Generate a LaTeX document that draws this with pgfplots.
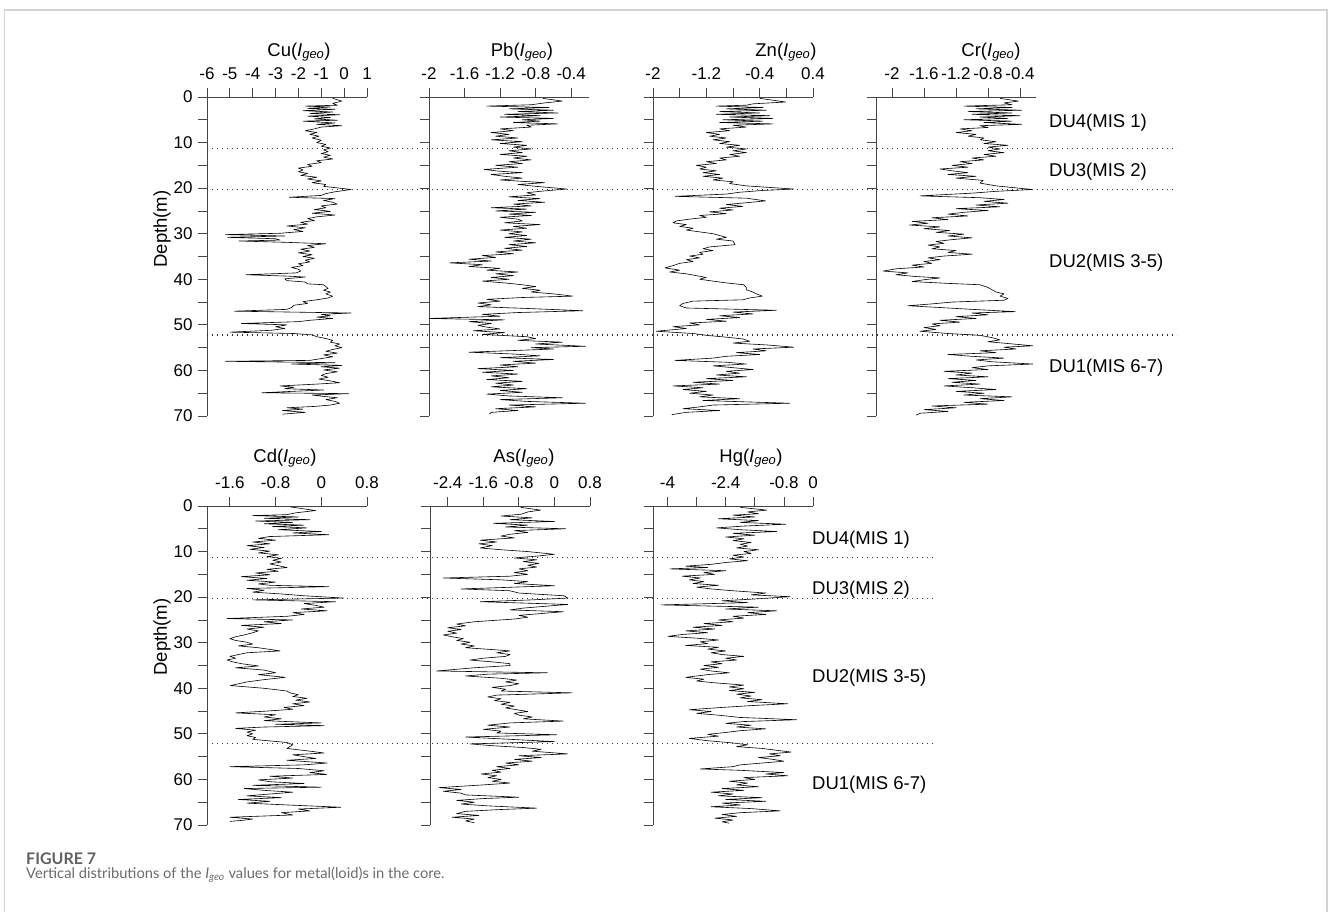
\documentclass[border=0pt]{standalone}
\usepackage{pgfplots}
\usepackage{pgfplotstable}
\pgfplotsset{compat=1.18}
\usepackage{fontspec}
\setmainfont{Liberation Sans}
\newfontfamily\capfont{Lato}
\definecolor{axc}{RGB}{70,70,70}
\definecolor{framec}{RGB}{212,212,212}
\newcommand\tk{\fontsize{17}{17}\selectfont}
\newcommand\ttl{\fontsize{18.5}{18.5}\selectfont}

\pgfplotstableread{
v d
-0.5 0.3
-0.1 0.9
-0.5 1.4
-0.3 1.8
-1.7 2.0
-0.6 2.2
-1.6 2.5
-0.4 2.7
-1.8 3.0
-0.5 3.3
-1.5 3.6
-0.2 3.9
-1.6 4.2
-0.6 4.5
-1.3 4.8
-0.3 5.1
-1.8 5.3
-0.4 5.7
-1.2 6.0
-0.1 6.3
-1.0 6.6
-1.3 7.0
-1.7 7.4
-1.2 7.8
-1.5 8.2
-1.1 8.6
-1.4 9.0
-1.0 9.5
-1.2 10.0
-0.8 10.4
-1.0 10.8
-0.6 11.2
-0.9 11.6
-0.7 12.0
-1.0 12.4
-0.6 12.8
-0.9 13.2
-0.5 13.6
-1.2 14.0
-1.0 14.4
-1.6 14.8
-1.4 15.2
-2.0 15.6
-1.8 16.0
-2.0 16.4
-1.6 16.8
-1.9 17.2
-1.2 17.6
-1.6 18.0
-1.0 18.4
-1.4 18.8
-0.8 19.2
-0.9 19.6
-0.2 20.0
0.3 20.3
-0.4 20.8
-0.8 21.2
-1.0 21.6
-2.4 22.0
-0.4 22.3
-0.9 22.7
-0.5 23.1
-0.3 23.5
-1.0 23.9
-0.8 24.3
-1.3 24.7
-0.6 25.1
-1.4 25.5
-0.4 25.9
-1.2 26.3
-1.6 26.7
-1.3 27.1
-1.9 27.5
-1.6 27.9
-2.5 28.3
-1.7 28.7
-2.2 29.1
-1.8 29.5
-2.8 29.9
-5.2 30.2
-2.6 30.5
-5.1 30.8
-3.0 31.1
-2.8 31.4
-4.6 31.6
-2.5 31.9
-0.8 32.2
-1.6 32.6
-1.3 33.0
-1.9 33.4
-1.5 33.8
-2.0 34.2
-1.4 34.6
-1.8 35.0
-1.3 35.4
-1.7 35.8
-1.5 36.2
-2.0 36.6
-1.8 37.0
-2.3 37.4
-2.0 37.8
-1.9 38.2
-2.1 38.6
-4.3 39.0
-2.5 39.3
-1.7 39.5
-2.6 39.9
-2.5 40.3
-1.7 40.6
-1.6 41.0
-0.9 41.2
-0.8 41.6
-0.7 42.0
-0.9 42.4
-0.6 42.8
-0.8 43.2
-0.5 43.7
-0.7 44.1
-1.2 44.5
-1.8 44.9
-1.6 45.3
-2.2 45.7
-2.3 46.2
-2.5 46.6
-4.8 47.0
0.3 47.4
-1.0 47.7
-0.6 48.0
-1.2 48.3
-0.5 48.6
-1.5 49.0
-2.0 49.3
-4.5 49.7
-2.5 50.0
-3.0 50.4
-2.6 50.8
-3.2 51.2
-5.0 51.6
-2.2 51.9
-1.4 52.2
-1.2 52.6
-0.8 53.0
-0.5 53.4
-0.6 53.8
-0.2 54.2
-0.4 54.6
-0.1 55.0
-0.5 55.4
-0.8 55.8
-0.3 56.2
-0.9 56.6
-0.5 57.0
-1.0 57.4
-1.5 57.8
-5.2 58.0
-0.4 58.3
-2.3 58.6
-0.1 58.9
-1.0 59.2
-0.2 59.5
-0.9 59.9
-0.3 60.3
-0.8 60.7
-1.0 61.1
-0.7 61.5
-1.1 61.9
-0.6 62.3
-0.2 62.7
-1.2 63.0
-2.8 63.4
-2.2 63.7
-2.6 64.0
-0.9 64.3
-2.3 64.6
-3.6 64.9
0.2 65.1
-1.4 65.4
-0.9 65.7
-0.3 66.0
-0.8 66.4
-0.4 66.8
-0.2 67.2
-0.6 67.6
-1.3 67.9
-2.5 68.2
-1.8 68.5
-2.7 68.8
-1.7 69.2
-2.7 69.6
}\Cu

\pgfplotstableread{
v d
-0.72 0.3
-0.5 0.9
-0.7 1.3
-0.85 1.7
-1.35 2.0
-0.65 2.3
-1.1 2.6
-0.6 2.9
-1.0 3.2
-0.55 3.5
-1.15 3.8
-0.75 4.1
-1.2 4.4
-0.6 4.7
-0.95 5.0
-0.75 5.3
-1.05 5.6
-0.55 5.9
-0.9 6.2
-0.85 6.6
-1.2 7.0
-1.05 7.4
-1.3 7.8
-1.1 8.2
-1.25 8.6
-1.0 9.0
-1.3 9.4
-0.95 9.8
-1.2 10.2
-0.9 10.6
-1.05 11.0
-0.85 11.4
-1.1 11.8
-0.95 12.2
-1.2 12.6
-0.9 13.0
-1.05 13.4
-0.85 13.8
-1.1 14.2
-0.95 14.6
-1.25 15.0
-1.0 15.4
-1.38 15.9
-1.2 16.3
-0.95 16.6
-1.3 17.0
-1.15 17.4
-0.95 17.8
-1.2 18.2
-0.7 18.8
-1.0 19.2
-0.8 19.6
-0.45 20.2
-0.7 20.6
-0.9 21.0
-0.8 21.5
-1.1 21.9
-0.75 22.3
-1.0 22.7
-0.7 23.1
-1.05 23.5
-0.85 23.9
-1.3 24.3
-0.9 24.6
-1.25 25.0
-0.8 25.3
-1.1 25.7
-0.85 26.0
-1.2 26.4
-1.0 26.8
-0.95 27.2
-1.15 27.6
-0.75 28.0
-1.05 28.4
-0.9 28.8
-1.2 29.2
-0.95 29.6
-1.1 30.0
-0.9 30.4
-1.15 30.8
-0.85 31.2
-1.05 31.6
-0.8 32.0
-1.1 32.4
-0.9 32.8
-1.15 33.2
-0.95 33.6
-1.25 34.0
-1.05 34.4
-1.4 34.8
-1.25 35.2
-1.55 35.6
-1.3 36.0
-1.77 36.4
-1.4 36.8
-1.55 37.2
-1.2 37.6
-1.35 38.0
-1.0 38.4
-1.25 38.8
-1.05 39.2
-1.3 39.6
-1.1 40.0
-1.4 40.4
-1.15 40.8
-0.95 41.2
-0.8 41.6
-0.95 42.0
-0.75 42.4
-0.85 42.8
-0.6 43.2
-0.38 43.7
-0.95 44.0
-1.35 44.4
-1.2 44.8
-1.45 45.2
-1.3 45.6
-1.45 46.0
-0.9 46.4
-0.27 46.9
-1.0 47.3
-1.4 47.7
-1.2 48.1
-2.0 48.6
-1.15 48.9
-1.55 49.3
-1.3 49.7
-1.45 50.1
-1.35 50.5
-1.2 50.9
-1.5 51.3
-1.15 51.7
-1.4 52.1
-0.9 52.6
-0.8 53.0
-1.0 53.4
-0.5 53.8
-0.8 54.2
-0.24 54.7
-0.85 55.0
-0.6 55.3
-1.0 55.6
-1.55 56.0
-1.05 56.4
-0.75 56.8
-1.2 57.2
-0.6 57.6
-1.05 58.0
-0.8 58.4
-1.2 58.8
-1.0 59.2
-1.45 59.6
-1.05 60.0
-1.4 60.4
-1.0 60.8
-1.3 61.2
-1.1 61.6
-1.35 62.0
-0.95 62.4
-1.25 62.8
-1.05 63.2
-1.3 63.6
-0.9 64.0
-1.2 64.4
-0.95 64.8
-1.35 65.2
-1.1 65.6
-0.5 66.0
-1.2 66.4
-0.9 66.8
-0.24 67.2
-1.1 67.6
-0.8 68.0
-1.25 68.4
-1.0 68.8
-1.3 69.2
-1.32 69.6
}\Pb

\pgfplotstableread{
v d
-0.4 0.3
-0.01 1.1
-0.5 1.5
-0.6 1.8
-1.05 2.0
-0.35 2.3
-0.9 2.6
-0.3 2.9
-1.0 3.2
-0.4 3.5
-1.05 3.8
-0.25 4.1
-0.85 4.4
-0.2 4.7
-0.95 5.0
-0.35 5.3
-1.0 5.6
-0.2 5.9
-0.8 6.2
-0.6 6.6
-1.0 7.0
-0.85 7.4
-1.2 7.8
-1.0 8.2
-1.15 8.6
-0.9 9.0
-1.1 9.4
-0.85 9.8
-1.0 10.2
-0.7 10.6
-0.9 11.0
-0.6 11.4
-0.8 11.8
-0.6 12.2
-0.85 12.6
-0.7 13.0
-1.0 13.4
-0.9 13.8
-1.2 14.2
-1.05 14.6
-1.35 15.0
-1.2 15.4
-1.3 15.8
-1.05 16.2
-1.25 16.6
-1.0 17.0
-1.25 17.4
-0.95 17.8
-1.1 18.2
-0.8 18.6
-0.85 19.0
-0.6 19.5
0.11 20.2
-0.35 20.5
-0.7 20.9
-0.9 21.3
-1.67 21.8
-0.6 22.2
-0.31 22.8
-0.6 23.2
-0.9 23.6
-0.65 24.0
-1.0 24.4
-0.8 24.8
-1.15 25.2
-0.9 25.6
-1.3 26.0
-1.2 26.4
-1.45 26.8
-1.65 27.2
-1.7 27.6
-1.5 28.0
-1.6 28.4
-1.4 28.8
-1.5 29.2
-1.3 29.6
-1.1 30.0
-1.0 30.4
-0.9 30.8
-1.05 31.2
-0.8 31.6
-0.77 32.4
-1.15 32.9
-1.25 33.3
-1.1 33.7
-1.3 34.1
-1.25 34.5
-1.45 34.9
-1.3 35.3
-1.5 35.7
-1.4 36.1
-1.6 36.5
-1.7 37.0
-1.82 37.5
-1.6 38.0
-1.75 38.4
-1.5 38.8
-1.35 39.2
-1.2 39.6
-1.3 40.0
-1.1 40.4
-0.9 40.8
-0.64 41.2
-0.6 41.8
-0.6 42.3
-0.5 42.8
-0.45 43.2
-0.36 43.7
-0.55 44.1
-0.65 44.5
-1.4 44.8
-1.55 45.3
-1.6 45.8
-1.5 46.3
-0.15 46.8
-0.8 47.2
-0.5 47.6
-1.0 48.0
-0.7 48.4
-1.2 48.8
-0.9 49.2
-1.45 49.6
-1.3 50.0
-1.7 50.4
-1.5 50.8
-1.95 51.4
-1.4 51.9
-1.2 52.3
-0.9 52.7
-0.65 53.1
-0.55 53.6
-0.8 54.0
-0.3 54.4
0.11 54.9
-0.5 55.3
-0.3 55.7
-0.75 56.1
-0.4 56.5
-0.9 56.9
-1.1 57.3
-1.67 57.8
-0.9 58.2
-0.6 58.6
-1.1 59.0
-0.8 59.4
-0.5 59.8
-0.9 60.2
-0.7 60.6
-1.05 61.0
-0.6 61.4
-1.2 61.8
-0.8 62.2
-1.4 62.6
-1.0 63.0
-1.7 63.4
-1.25 63.8
-1.55 64.2
-1.2 64.6
-1.45 65.0
-1.1 65.4
-1.3 65.8
-0.7 66.2
-1.25 66.6
0.05 67.2
-1.1 67.6
-1.3 68.0
-1.55 68.4
-1.0 68.8
-1.5 69.2
-1.72 69.7
}\Zn

\pgfplotstableread{
v d
-0.65 0.3
-0.42 0.9
-0.6 1.3
-0.5 1.7
-1.1 2.0
-0.5 2.3
-0.95 2.6
-0.38 2.9
-1.05 3.2
-0.5 3.5
-1.0 3.8
-0.4 4.1
-0.9 4.4
-0.55 4.7
-1.1 5.0
-0.5 5.3
-0.85 5.6
-0.38 6.0
-0.9 6.3
-0.8 6.7
-1.15 7.0
-1.0 7.4
-1.2 7.8
-0.95 8.2
-1.05 8.6
-0.85 9.0
-0.9 9.4
-0.7 9.8
-0.85 10.2
-0.55 10.6
-0.8 11.0
-0.65 11.4
-0.8 11.8
-0.6 12.2
-0.85 12.6
-0.7 13.0
-1.0 13.4
-0.85 13.8
-1.15 14.2
-1.0 14.6
-1.25 15.0
-1.05 15.4
-1.4 15.8
-1.25 16.2
-1.05 16.6
-1.3 17.0
-0.95 17.4
-1.2 17.8
-0.86 18.3
-0.9 18.9
-0.7 19.5
-0.25 20.3
-0.7 20.7
-1.0 21.1
-1.65 21.7
-0.9 22.1
-0.6 22.5
-0.85 22.9
-0.55 23.3
-0.95 23.7
-0.65 24.1
-1.2 24.5
-0.8 24.9
-1.1 25.3
-1.3 25.7
-1.05 26.1
-1.5 26.5
-1.3 26.9
-1.75 27.3
-1.55 27.7
-1.78 28.1
-1.4 28.5
-1.6 28.9
-1.28 29.3
-1.45 29.7
-1.1 30.1
-1.3 30.5
-1.0 30.9
-1.25 31.3
-1.45 31.7
-1.35 32.1
-1.55 32.5
-1.4 32.9
-1.5 33.3
-1.2 33.7
-1.3 34.1
-1.0 34.5
-1.35 34.9
-1.55 35.3
-1.4 35.7
-1.6 36.1
-1.5 36.5
-1.75 36.9
-1.6 37.3
-1.95 37.7
-2.11 38.2
-1.8 38.6
-1.95 39.0
-1.7 39.4
-1.4 39.7
-1.6 40.1
-1.75 40.5
-1.3 40.9
-0.9 41.2
-0.8 41.8
-0.75 42.3
-0.7 42.8
-0.6 43.2
-0.65 43.7
-0.55 44.2
-0.6 44.6
-1.25 45.0
-1.5 45.4
-1.8 45.8
-1.4 46.2
-1.0 46.6
-0.46 47.1
-1.0 47.4
-0.8 47.8
-1.2 48.2
-0.95 48.6
-1.4 49.0
-1.15 49.4
-1.5 49.8
-1.4 50.2
-1.6 50.6
-1.45 51.0
-1.65 51.4
-1.3 51.9
-0.9 52.3
-0.75 52.8
-0.65 53.3
-0.8 53.7
-0.55 54.1
-0.24 54.6
-0.6 54.9
-0.45 55.3
-0.9 55.7
-0.7 56.1
-1.3 56.5
-1.0 56.9
-0.6 57.3
-0.95 57.7
-0.75 58.1
-0.24 58.6
-0.8 59.0
-1.0 59.4
-0.8 59.8
-1.35 60.2
-1.0 60.6
-1.2 61.0
-0.8 61.4
-1.3 61.8
-0.95 62.2
-1.25 62.6
-0.9 63.0
-1.35 63.4
-1.0 63.8
-0.7 64.2
-1.2 64.6
-0.85 65.0
-1.1 65.4
-0.5 65.8
-0.9 66.2
-0.6 66.6
-1.1 67.0
-0.8 67.4
-1.5 67.8
-1.2 68.2
-1.6 68.6
-1.3 69.0
-1.65 69.4
-1.7 69.8
}\Cr

\pgfplotstableread{
v d
-0.54 0.2
-0.1 1.0
-0.45 1.5
-0.6 1.9
-1.2 2.1
-0.4 2.4
-1.0 2.7
-0.2 3.0
-1.15 3.3
-0.5 3.6
-1.0 3.9
-0.3 4.2
-0.85 4.5
-0.25 4.8
-0.75 5.2
0.0 5.6
-0.5 5.9
0.13 6.3
-0.9 6.7
-1.1 7.1
-0.8 7.5
-1.2 7.9
-0.9 8.3
-1.3 8.7
-1.0 9.1
-1.25 9.5
-0.9 9.9
-1.1 10.3
-0.75 10.7
-0.95 11.1
-0.7 11.5
-0.85 11.9
-0.7 12.3
-0.9 12.7
-0.75 13.1
-0.6 13.5
-0.95 13.9
-0.75 14.3
-1.15 14.7
-0.9 15.1
-1.4 15.5
-0.95 15.9
-1.3 16.3
-0.8 16.7
-1.1 17.1
-0.9 17.4
0.13 17.7
-1.3 18.1
-1.0 18.5
-1.2 18.9
-0.7 19.3
-0.3 19.7
0.39 20.2
-1.2 20.6
0.25 21.0
-0.3 21.4
-0.1 21.8
0.05 22.2
-0.35 22.6
0.1 23.0
-0.5 23.4
-0.3 23.8
-0.6 24.2
-1.65 24.7
-0.5 25.0
-1.0 25.4
-0.7 25.8
-1.4 26.2
-1.0 26.6
-1.3 27.0
-1.1 27.4
-1.2 27.8
-1.35 28.3
-1.5 28.7
-1.6 29.1
-1.5 29.5
-1.3 29.9
-1.2 30.3
-1.45 30.7
-1.1 31.1
-0.72 31.8
-1.3 32.2
-1.45 32.6
-1.6 33.0
-1.5 33.4
-1.65 33.8
-1.55 34.2
-1.4 34.6
-1.1 35.1
-1.5 35.5
-1.0 36.0
-0.8 36.6
-1.1 37.0
-0.63 37.6
-1.0 38.1
-1.3 38.6
-1.59 39.4
-1.0 40.0
-0.6 40.6
-0.55 41.0
-0.4 41.4
-0.5 41.8
-0.25 42.2
-0.45 42.6
-0.2 43.0
-0.5 43.4
-0.3 43.8
-0.65 44.2
-0.5 44.6
-0.95 45.0
-1.5 45.4
-0.8 45.8
-1.0 46.3
-0.7 46.7
-1.0 47.1
0.0 47.6
-0.8 47.9
0.05 48.2
-1.0 48.5
-1.5 48.8
-1.15 49.2
-1.3 49.6
-1.2 50.0
-1.3 50.4
-1.15 50.8
-1.2 51.2
-0.6 51.9
-0.5 52.4
-0.55 52.8
-0.6 53.2
-0.2 53.8
0.05 54.2
-0.5 54.6
-0.3 55.0
-0.1 55.4
-0.6 55.8
0.1 56.4
-0.3 56.8
-1.6 57.2
-0.4 57.6
0.05 58.1
-0.2 58.5
0.1 58.9
-0.9 59.3
-0.5 59.7
-1.1 60.1
-0.9 60.5
-0.3 60.9
-1.2 61.3
0.0 61.7
-1.35 62.0
-1.0 62.4
-0.5 62.8
-0.9 63.2
-1.3 63.6
-0.7 64.0
-1.45 64.4
-0.9 64.8
-1.3 65.2
-0.6 65.6
0.34 66.1
-0.4 66.5
-0.2 66.9
-0.7 67.3
-0.5 67.8
-1.6 68.3
-1.2 68.7
-1.4 69.0
-1.6 69.2
}\Cd

\pgfplotstableread{
v d
-0.76 0.3
-0.31 0.9
-0.6 1.3
-0.75 1.8
-1.2 2.2
-0.5 2.6
-1.0 3.0
0.0 3.4
-1.37 3.8
-0.6 4.2
-1.1 4.6
0.25 5.0
-0.9 5.4
-0.6 5.8
-1.0 6.2
-1.2 6.6
-0.9 7.0
-1.67 7.5
-1.3 7.9
-1.7 8.3
-1.4 8.7
-1.67 9.2
-1.2 9.6
-0.6 10.0
0.0 10.6
-0.4 11.0
-0.9 11.4
-0.4 11.8
-0.7 12.2
-0.35 12.6
-0.6 13.0
-0.4 13.4
-0.8 13.8
-0.6 14.2
-0.9 14.6
-0.6 15.0
-1.0 15.4
-2.5 15.8
-1.2 16.2
-0.6 16.6
-0.9 17.0
0.0 17.5
-2.1 18.2
-1.0 18.6
-0.8 19.1
0.22 19.7
0.3 20.2
-0.5 20.6
-1.67 21.0
0.3 21.6
-0.2 22.0
-0.7 22.4
-1.0 22.8
0.2 23.2
-0.3 23.6
-0.8 24.0
-0.6 24.4
-0.9 24.8
-1.8 25.4
-2.2 25.9
-2.0 26.3
-2.4 26.7
-2.1 27.1
-2.4 27.5
-2.2 27.9
-2.5 28.3
-2.3 28.7
-2.05 29.1
-2.2 29.5
-1.9 29.9
-2.1 30.3
-1.8 30.7
-2.0 31.1
-1.4 31.5
-1.0 31.8
-1.3 32.2
-1.0 32.6
-1.1 33.0
-1.6 33.4
-1.9 33.8
-1.4 34.2
-1.0 34.6
-1.0 35.0
-1.8 35.5
-2.65 36.2
-0.16 36.6
-1.5 36.9
-2.0 37.3
-1.2 37.8
-0.85 38.2
-1.1 38.6
-0.8 39.0
-1.0 39.4
-1.4 39.8
-1.1 40.2
-1.2 40.6
0.4 41.0
-1.3 41.5
-1.5 41.9
-1.2 42.3
-1.35 42.7
-1.0 43.1
-1.2 43.5
-0.9 43.9
-1.1 44.3
-0.85 44.7
-0.6 45.1
-0.9 45.5
-0.8 45.9
-0.5 46.3
-0.7 46.7
0.2 47.2
-1.0 47.6
-1.5 48.1
-1.0 48.5
-1.6 49.0
-1.2 49.4
-1.3 49.8
0.05 50.2
-2.0 50.7
-1.2 51.1
0.0 51.7
-1.9 52.2
-1.4 52.6
-0.7 53.0
-0.3 53.4
-0.5 53.8
0.3 54.4
-0.8 54.8
-0.3 55.2
-0.9 55.6
-0.5 56.0
-1.1 56.4
-0.8 56.8
-1.3 57.2
-1.0 57.6
-1.4 58.0
-1.2 58.4
-1.65 58.8
-1.3 59.2
-1.5 59.6
-1.2 60.0
-1.4 60.4
-1.0 60.8
-1.6 61.2
-2.6 61.8
-2.1 62.2
-2.5 62.6
-2.1 63.0
-2.0 63.4
-0.8 63.9
-1.6 64.2
-2.2 64.6
-1.8 65.0
-2.1 65.4
-1.5 65.8
-0.4 66.3
-1.2 66.6
-2.0 67.0
-2.2 67.5
-1.7 67.9
-2.3 68.3
-1.8 68.7
-2.0 69.1
-1.8 69.5
}\As

\pgfplotstableread{
v d
-2.0 0.3
-1.27 0.9
-1.8 1.3
-1.5 1.7
-2.2 2.0
-1.6 2.4
-2.6 2.8
-1.5 3.2
-2.0 3.6
-0.75 4.0
-1.9 4.4
-2.65 4.8
-2.0 5.2
-1.0 5.6
-2.2 6.0
-1.6 6.4
-2.4 6.8
-1.9 7.2
-2.2 7.6
-1.7 8.0
-2.0 8.4
-1.8 8.8
-2.1 9.2
-1.5 9.6
-1.9 10.0
-1.7 10.4
-2.2 10.8
-1.9 11.2
-2.3 11.6
-1.8 12.0
-2.4 12.4
-2.8 12.8
-3.5 13.2
-2.9 13.5
-3.94 13.8
-2.4 14.2
-3.0 14.6
-2.7 15.0
-3.6 15.4
-3.1 15.8
-3.4 16.2
-3.0 16.6
-3.3 17.0
-2.6 17.4
-3.2 17.8
-2.8 18.2
-2.2 18.6
-1.3 19.1
-1.7 19.5
-0.63 19.9
-1.6 20.4
-2.5 20.8
-1.8 21.2
-4.17 21.7
-1.5 22.2
-2.4 22.6
-1.0 23.0
-1.8 23.4
-1.3 23.8
-2.2 24.2
-1.9 24.6
-2.6 25.0
-2.2 25.4
-3.0 25.8
-2.5 26.2
-3.3 26.6
-2.7 27.0
-3.5 27.4
-2.9 27.8
-3.6 28.2
-3.99 28.6
-3.2 29.0
-2.6 29.4
-3.1 29.8
-2.9 30.2
-3.5 30.6
-2.6 31.0
-2.9 31.4
-2.4 31.8
-2.8 32.2
-2.5 32.6
-1.9 33.0
-2.4 33.4
-2.1 33.8
-2.8 34.2
-2.5 34.6
-3.0 35.0
-2.6 35.4
-3.1 35.8
-2.8 36.2
-2.3 36.6
-2.9 37.0
-3.5 37.6
-3.0 38.0
-3.2 38.4
-2.7 38.8
-1.9 39.3
-2.3 39.7
-1.9 40.1
-2.3 40.5
-1.6 40.9
-2.1 41.3
-1.7 41.7
-2.0 42.1
-1.4 42.5
-1.8 42.9
-0.7 43.4
-1.7 43.8
-2.5 44.2
-3.4 44.7
-2.8 45.1
-3.2 45.5
-2.6 45.9
-2.0 46.4
-0.45 46.9
-1.9 47.3
-2.4 47.7
-1.7 48.1
-2.1 48.5
-1.3 48.9
-2.0 49.3
-2.4 49.7
-2.9 50.1
-2.6 50.5
-3.4 51.0
-2.9 51.5
-2.2 52.0
-1.8 52.4
-2.1 52.8
-1.4 53.2
-1.0 53.6
-0.6 54.0
-1.2 54.4
-0.9 54.8
-1.5 55.2
-1.1 55.6
-0.8 56.0
-1.4 56.4
-2.0 56.8
-2.2 57.2
-3.1 57.7
-2.0 58.0
-0.8 58.5
-1.3 58.8
-0.7 59.2
-1.9 59.6
-1.6 60.0
-2.3 60.4
-1.8 60.8
-2.1 61.2
-1.5 61.6
-2.5 62.0
-1.9 62.4
-2.8 62.8
-2.2 63.2
-2.6 63.6
-1.4 64.0
-2.4 64.4
-1.3 64.8
-2.5 65.2
-2.0 65.6
-2.8 66.0
-1.7 66.4
-0.9 66.9
-2.0 67.3
-2.5 67.7
-2.1 68.1
-2.7 68.5
-2.2 68.9
-2.5 69.3
-2.3 69.6
}\Hg

\pgfplotsset{
  panel/.style={
    scale only axis, width=160pt, height=319pt,
    anchor=north west,
    ymin=-70, ymax=0,
    axis x line*=top, axis y line*=left,
    tick align=outside,
    major tick length=9pt,
    ytick={-70,-65,...,0},
    axis line style={axc, line width=0.8pt},
    every tick/.style={axc, line width=0.8pt},
    ticklabel style={font=\tk, text=black},
    xticklabel style={yshift=5pt},
    yticklabel style={xshift=-2pt},
    clip=false,
  },
  labels/.style={yticklabels={70,,60,,50,,40,,30,,20,,10,,0}},
  nolabels/.style={yticklabels={}},
  curve/.style={black, line width=0.6pt, line join=round},
}

\begin{document}
\begin{tikzpicture}
\useasboundingbox (0pt,0pt) rectangle (1328pt,-912pt);
\begin{scope}[x=1pt,y=-1pt]
\draw[framec, line width=1.4pt] (4.5,912) -- (4.5,10) -- (1326.8,10) -- (1326.8,912);
\end{scope}

% top row
\begin{axis}[panel, labels, at={(207pt,-97pt)}, xmin=-6, xmax=1,
  xtick={-6,-5,...,1}, xticklabels={-6,-5,-4,-3,-2,-1,0,1}]
\addplot[curve] table[x=v, y expr=-\thisrow{d}] {\Cu};
\end{axis}
\begin{axis}[panel, nolabels, at={(429pt,-97pt)}, xmin=-2, xmax=-0.2,
  xtick={-2,-1.6,-1.2,-0.8,-0.4}, xticklabels={-2,-1.6,-1.2,-0.8,-0.4}]
\addplot[curve] table[x=v, y expr=-\thisrow{d}] {\Pb};
\end{axis}
\begin{axis}[panel, nolabels, at={(653pt,-97pt)}, xmin=-2, xmax=0.4,
  xtick={-2,-1.6,-1.2,-0.8,-0.4,0,0.4}, xticklabels={-2,,-1.2,,-0.4,,0.4}]
\addplot[curve] table[x=v, y expr=-\thisrow{d}] {\Zn};
\end{axis}
\begin{axis}[panel, nolabels, at={(876pt,-97pt)}, xmin=-2.2, xmax=-0.2,
  xtick={-2,-1.6,-1.2,-0.8,-0.4}, xticklabels={-2,-1.6,-1.2,-0.8,-0.4}]
\addplot[curve] table[x=v, y expr=-\thisrow{d}] {\Cr};
\end{axis}

% bottom row
\begin{axis}[panel, labels, at={(207pt,-506pt)}, xmin=-2, xmax=0.8,
  xtick={-1.6,-0.8,0,0.8}, xticklabels={-1.6,-0.8,0,0.8}]
\addplot[curve] table[x=v, y expr=-\thisrow{d}] {\Cd};
\end{axis}
\begin{axis}[panel, nolabels, at={(430pt,-506pt)}, xmin=-2.8, xmax=0.8,
  xtick={-2.4,-1.6,-0.8,0,0.8}, xticklabels={-2.4,-1.6,-0.8,0,0.8}]
\addplot[curve] table[x=v, y expr=-\thisrow{d}] {\As};
\end{axis}
\begin{axis}[panel, nolabels, at={(653pt,-506pt)}, xmin=-4.4, xmax=0,
  xtick={-4,-3.2,-2.4,-1.6,-0.8,0}, xticklabels={-4,,-2.4,,-0.8,0}]
\addplot[curve] table[x=v, y expr=-\thisrow{d}] {\Hg};
\end{axis}

\begin{scope}[x=1pt,y=-1pt]
% dotted boundaries
\foreach \yy in {148.8,189.8,335.0}
  \draw[black!80, line width=1.3pt, dash pattern=on 1.4pt off 3.6pt] (207,\yy) -- (1177,\yy);
\foreach \yy in {557.3,598.3,743.3}
  \draw[black!80, line width=1.3pt, dash pattern=on 1.4pt off 3.6pt] (207,\yy) -- (933,\yy);
% titles
\foreach \xx/\yy/\el in {299/52/Cu,522/52/Pb,786/52/Zn,991/52/Cr,285/458/Cd,524/458/As,751/458/Hg}
  \node[font=\ttl, inner sep=0pt] at (\xx,\yy) {\el(\textit{I}\textsubscript{\textit{geo}})};
% depth labels
\node[font=\ttl, rotate=90, inner sep=0pt] at (162,229) {Depth(m)};
\node[font=\ttl, rotate=90, inner sep=0pt] at (162,637) {Depth(m)};
% units
\foreach \yy/\t in {123/DU4(MIS 1),172/DU3(MIS 2),263/DU2(MIS 3-5),368/DU1(MIS 6-7)}
  \node[font=\ttl, anchor=west, inner sep=0pt] at (1049,\yy) {\t};
\foreach \yy/\t in {540/DU4(MIS 1),590/DU3(MIS 2),678/DU2(MIS 3-5),785/DU1(MIS 6-7)}
  \node[font=\ttl, anchor=west, inner sep=0pt] at (812,\yy) {\t};
% caption
\node[anchor=base west, inner sep=0pt, font=\capfont\bfseries\fontsize{16}{16}\selectfont, text=black!62] at (26,864) {FIGURE 7};
\node[anchor=base west, inner sep=0pt, font=\capfont\fontsize{14.7}{15}\selectfont, text=black!58] at (26,878) {Vertical distributions of the \textit{I}\textsubscript{\textit{geo}} values for metal(loid)s in the core.};
\end{scope}
\end{tikzpicture}
\end{document}
